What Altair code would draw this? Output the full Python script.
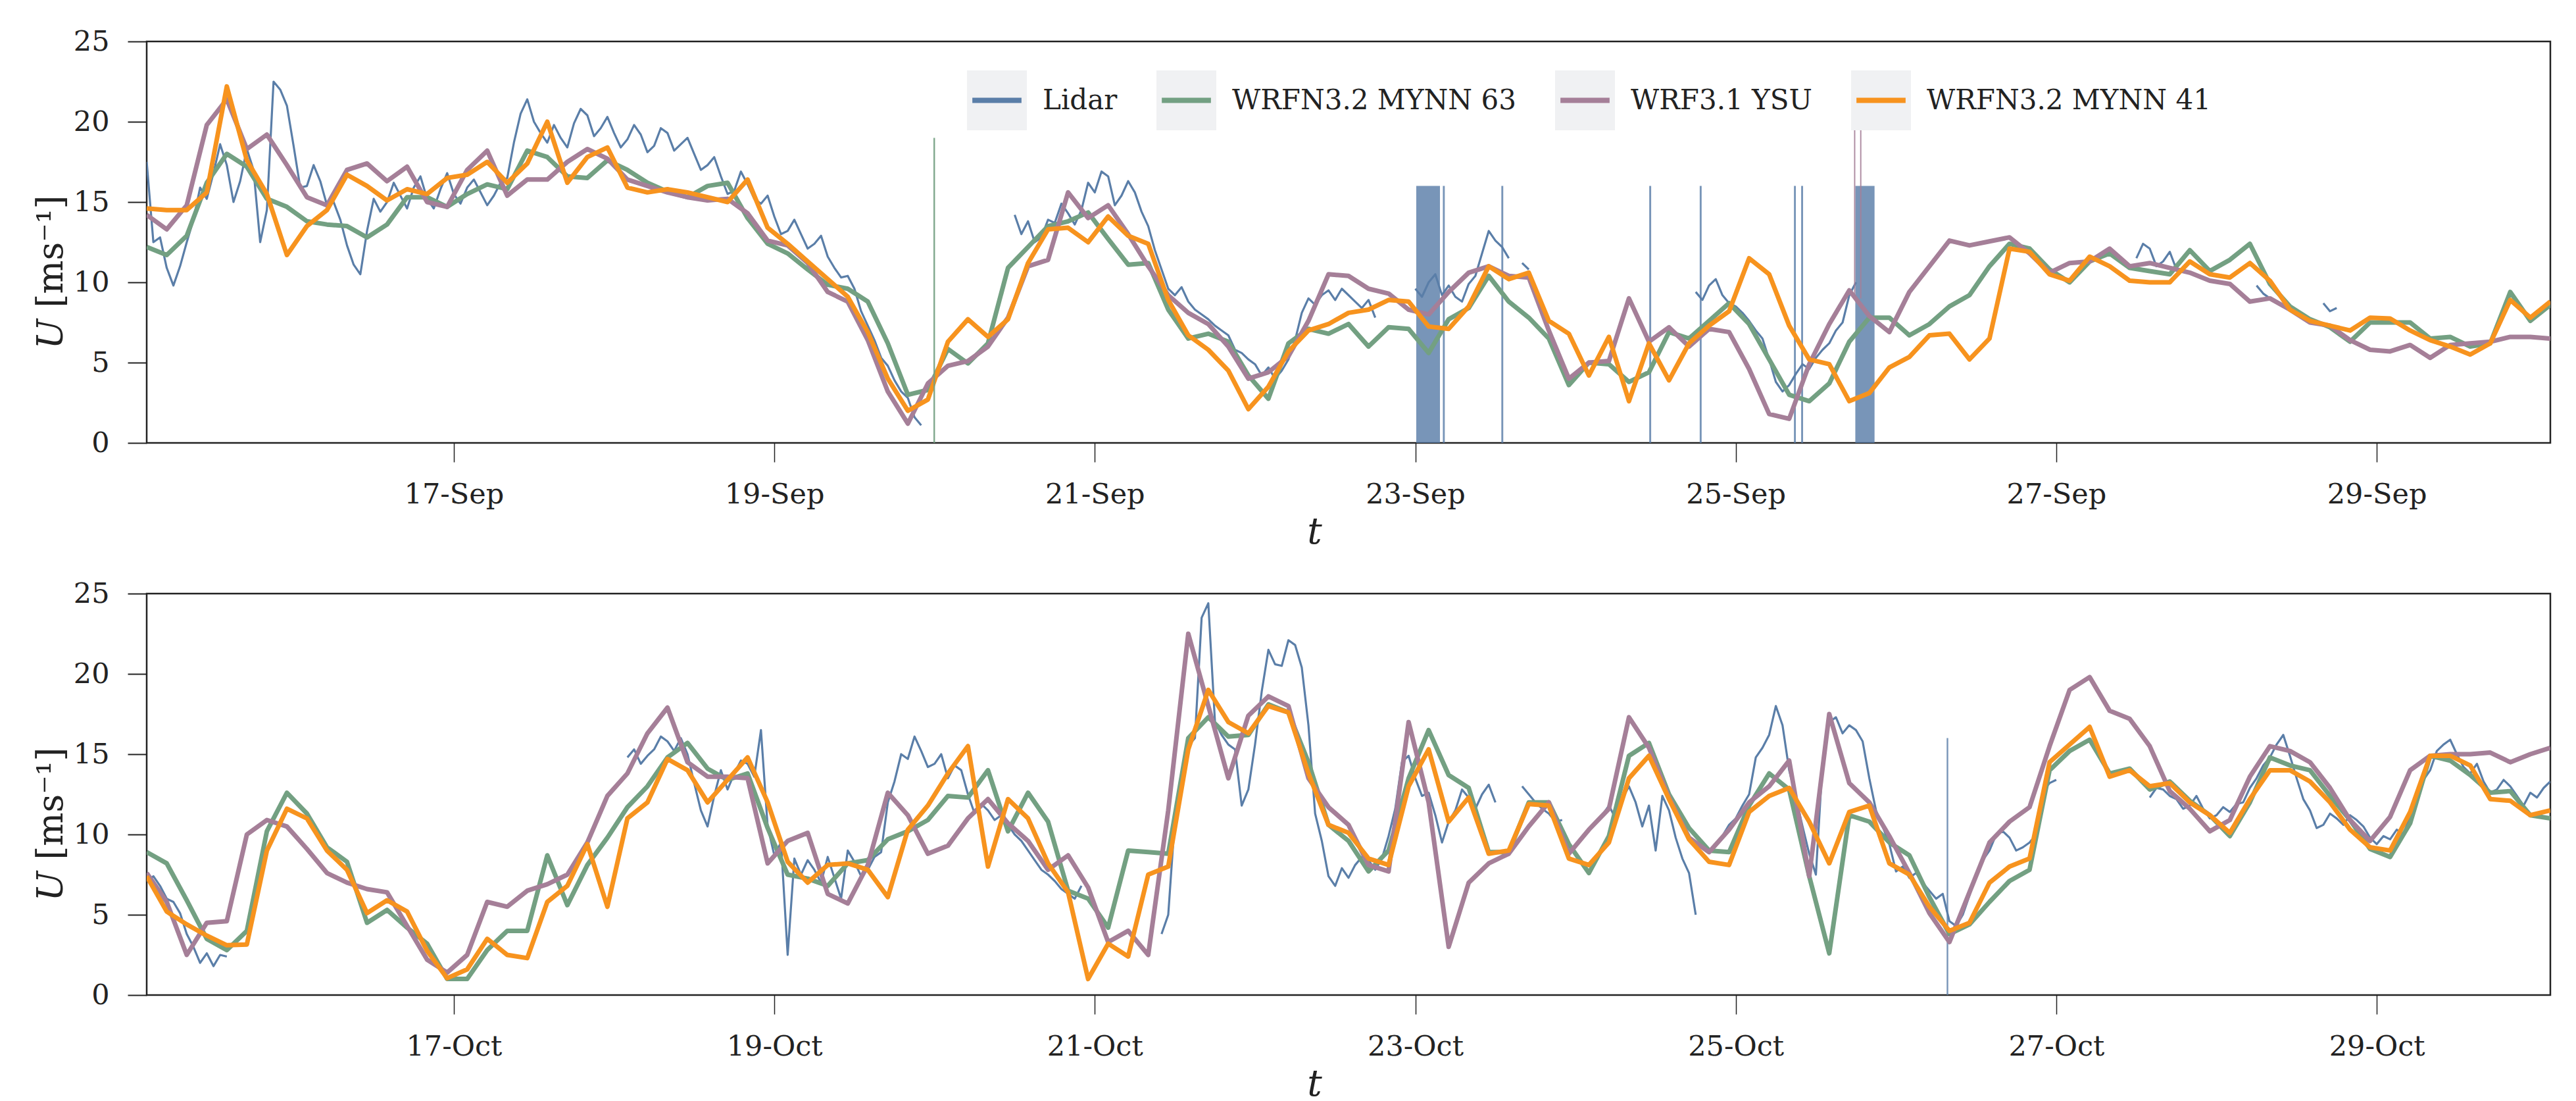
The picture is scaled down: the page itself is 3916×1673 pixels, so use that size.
import numpy as np
import pandas as pd
import altair as alt

N = None
FONT = "DejaVu Serif"
SERIES = ["Lidar", "WRFN3.2 MYNN 63", "WRF3.1 YSU", "WRFN3.2 MYNN 41"]
COLORS = ["#5a7ea8", "#73a082", "#a57f98", "#f7931e"]
BOX_GREY = "#f0f1f3"

START_DAY = 15 + 2 / 24       # first sample: day 15, 02:00
END_DAY = 30 + 2 / 24
MODEL_STEP_H = 3
LIDAR_STEP_H = 1
TICK_DAYS = [17, 19, 21, 23, 25, 27, 29]
Y_TICKS = [0, 5, 10, 15, 20, 25]

# ---------------- September ----------------
SEP_MYNN41 = [
    14.6, 14.5, 14.5, 15.6, 22.2, 17.6, 15.5, 11.7, 13.5, 14.5,
    16.7, 16.0, 15.1, 15.8, 15.5, 16.5, 16.7, 17.5, 16.2, 17.4,
    20.0, 16.2, 17.8, 18.4, 15.9, 15.6, 15.8, 15.6, 15.3, 15.0,
    16.4, 13.4, 12.4, 11.3, 10.2, 9.1, 6.9, 4.0, 2.0, 2.7,
    6.3, 7.7, 6.6, 7.7, 11.2, 13.3, 13.4, 12.5, 14.1, 12.9,
    12.4, 8.9, 6.7, 5.8, 4.5, 2.1, 3.5, 5.7, 7.0, 7.4,
    8.1, 8.3, 8.9, 8.8, 7.25, 7.1, 8.5, 11.0, 10.2, 10.6,
    7.6, 6.8, 4.2, 6.6, 2.6, 6.2, 3.9, 6.2, 7.3, 8.2,
    11.5, 10.5, 7.3, 5.2, 4.9, 2.6, 3.1, 4.7, 5.35, 6.7,
    6.8, 5.2, 6.5, 12.1, 11.9, 10.5, 10.1, 11.6, 11.0, 10.1,
    10.0, 10.0, 11.3, 10.5, 10.3, 11.2, 10.1, 8.3, 7.6, 7.3,
    7.0, 7.8, 7.75, 7.0, 6.4, 6.0, 5.5, 6.2, 8.9, 7.8,
    8.8,
]
SEP_MYNN63 = [
    12.2, 11.7, 12.9, 16.2, 18.0, 17.2, 15.2, 14.7, 13.8, 13.6,
    13.5, 12.8, 13.6, 15.3, 15.3, 14.7, 15.5, 16.1, 15.8, 18.2,
    17.8, 16.6, 16.5, 17.6, 17.0, 16.2, 15.65, 15.3, 16.0, 16.2,
    14.0, 12.4, 11.8, 10.8, 9.85, 9.6, 8.8, 6.2, 3.0, 3.3,
    5.85, 4.95, 6.2, 10.9, 12.2, 13.5, 13.8, 14.35, 12.7, 11.1,
    11.2, 8.3, 6.5, 6.8, 6.3, 4.2, 2.75, 6.2, 7.1, 6.8,
    7.4, 6.0, 7.2, 7.1, 5.6, 7.7, 8.4, 10.4, 8.8, 7.8,
    6.5, 3.6, 5.0, 4.9, 3.8, 4.4, 6.9, 6.5, 7.6, 8.7,
    7.4, 5.2, 3.0, 2.6, 3.7, 6.3, 7.8, 7.8, 6.7, 7.4,
    8.5, 9.2, 11.0, 12.4, 12.1, 10.8, 10.0, 11.3, 11.8, 10.9,
    10.7, 10.5, 12.0, 10.7, 11.4, 12.4, 9.9, 8.5, 7.7, 7.2,
    6.3, 7.5, 7.5, 7.5, 6.5, 6.6, 6.0, 6.2, 9.4, 7.6,
    8.6,
]
SEP_YSU = [
    14.2, 13.3, 14.8, 19.8, 21.4, 18.3, 19.2, 17.3, 15.3, 14.8,
    17.0, 17.4, 16.3, 17.2, 15.0, 14.7, 17.0, 18.2, 15.4, 16.4,
    16.4, 17.5, 18.3, 17.7, 16.4, 16.0, 15.6, 15.3, 15.1, 15.2,
    14.3, 12.6, 12.3, 11.2, 9.4, 8.8, 6.4, 3.2, 1.2, 3.7,
    4.8, 5.1, 6.0, 7.8, 11.0, 11.4, 15.6, 14.0, 14.8, 13.0,
    11.0, 9.2, 8.1, 7.4, 6.0, 4.0, 4.4, 5.4, 7.6, 10.5,
    10.4, 9.6, 9.3, 8.3, 8.0, 9.4, 10.6, 11.0, 10.4, 10.3,
    7.0, 4.0, 5.0, 5.1, 9.0, 6.3, 7.2, 6.0, 7.1, 6.9,
    4.6, 1.8, 1.5, 4.9, 7.4, 9.5, 7.9, 6.9, 9.4, 11.0,
    12.6, 12.3, 12.55, 12.8, 11.8, 10.6, 11.2, 11.3, 12.1, 11.0,
    11.2, 10.9, 10.6, 10.1, 9.9, 8.8, 9.0, 8.3, 7.5, 7.3,
    6.4, 5.8, 5.7, 6.1, 5.3, 6.1, 6.2, 6.3, 6.6, 6.6,
    6.5,
]
# hourly lidar, None = no measurement
SEP_LIDAR = [
    17.5, 12.5, 12.8, 10.9, 9.8, 11.0, 12.5, 13.9, 15.9, 15.2,
    16.8, 18.6, 17.3, 15.0, 16.3, 18.3, 17.0, 12.5, 14.5, 22.5,
    22.0, 21.0, 18.5, 15.9, 16.0, 17.3, 16.3, 14.8, 15.0, 13.9,
    12.3, 11.1, 10.5, 13.2, 15.2, 14.4, 15.0, 16.2, 15.4, 14.6,
    15.9, 16.6, 15.2, 14.6, 15.8, 16.8, 15.5, 14.9, 15.9, 16.4,
    15.6, 14.8, 15.4, 16.2, 16.5, 18.7, 20.5, 21.4, 20.0, 19.3,
    18.7, 19.8, 19.0, 18.4, 19.9, 20.8, 20.4, 19.1, 19.6, 20.3,
    19.3, 18.4, 18.9, 19.8, 19.2, 18.1, 18.5, 19.6, 19.3, 18.2,
    18.6, 19.0, 18.0, 17.0, 17.3, 17.8, 16.6, 15.5, 15.7, 16.9,
    16.1, 15.2, 14.9, 15.4, 14.1, 13.0, 13.2, 13.9, 13.0, 12.1,
    12.4, 12.9, 11.6, 10.9, 10.3, 10.4, 9.6, 8.2, 7.3, 6.4,
    5.3, 4.8, 3.9, 3.2, 2.8, 1.6, 1.1, N, N, N,
    N, N, N, N, N, N, N, N, N, N,
    14.2, 13.0, 13.8, 12.5, 12.8, 13.9, 13.7, 14.9, 14.3, 13.6,
    14.5, 16.2, 15.6, 16.9, 16.6, 14.8, 15.4, 16.3, 15.6, 14.4,
    13.5, 12.0, 10.8, 9.6, 9.2, 9.7, 8.8, 8.3, 8.0, 7.7,
    7.3, 7.0, 6.7, 5.8, 5.6, 5.2, 4.9, 4.2, 4.7, 4.0,
    4.5, 5.2, 6.4, 8.1, 9.0, 8.6, 9.2, 9.5, 8.9, 9.6,
    9.2, 8.8, 8.4, 8.9, 7.8, N, N, N, N, N,
    9.6, 9.1, 10.0, 10.5, 9.2, 9.8, 9.1, 8.8, 9.9, 10.4,
    11.8, 13.2, 12.6, 12.2, 11.5, N, 11.2, 10.8, N, N,
    N, N, N, N, N, N, N, N, N, N,
    N, N, N, N, N, N, N, N, N, N,
    N, N, 9.4, 8.9, 9.8, 10.2, 9.2, 8.7, 8.5, 8.1,
    7.6, 7.0, 6.5, 5.2, 3.8, 3.2, 3.6, 4.3, 4.9, 4.6,
    5.3, 5.8, 6.2, 7.0, 7.5, 9.2, 10.0, N, N, N,
    N, N, N, N, N, N, N, N, N, N,
    N, N, N, N, N, N, N, N, N, N,
    N, N, N, N, N, N, N, N, N, N,
    N, N, N, N, N, N, N, N, 11.5, 12.4,
    12.1, 11.0, 11.3, 11.9, 10.8, N, N, N, N, N,
    N, N, N, N, N, N, 9.8, 9.3, 9.0, N,
    N, N, N, N, N, N, 8.7, 8.2, 8.4, N,
    N, N, N, N, N, N, N, N, N, N,
    N, N, N, N, N, N, N, N, N, N,
    N, N, N, N, N, N, N, N, N, N,
    N,
]
# vertical lidar bursts (day start, day end), reaching SEP_BAND_TOP
SEP_BAND_START = [23.006, 23.172, 23.537, 24.460, 24.775, 25.363, 25.408, 25.746]
SEP_BAND_END = [23.154, 23.184, 23.549, 24.472, 24.787, 25.375, 25.420, 25.866]
SEP_BAND_TOP = 16.0
SEP_GREEN_SPIKE_START = [19.993]
SEP_GREEN_SPIKE_END = [20.003]
SEP_GREEN_SPIKE_LOW = [0.0]
SEP_GREEN_SPIKE_HIGH = [19.0]
SEP_MAUVE_SPIKE_START = [25.738, 25.776]
SEP_MAUVE_SPIKE_END = [25.746, 25.784]
SEP_MAUVE_SPIKE_LOW = [9.0, 9.0]
SEP_MAUVE_SPIKE_HIGH = [22.0, 22.0]

# ---------------- October ----------------
OCT_MYNN41 = [
    7.4, 5.2, 4.4, 3.7, 3.1, 3.15, 9.0, 11.6, 11.0, 9.0,
    7.8, 5.1, 5.9, 5.2, 2.75, 1.05, 1.6, 3.5, 2.5, 2.3,
    5.8, 6.8, 9.4, 5.5, 11.0, 12.0, 14.7, 14.0, 12.0, 13.4,
    14.8, 12.0, 8.3, 7.0, 8.1, 8.2, 7.8, 6.1, 10.3, 11.8,
    13.8, 15.5, 8.0, 12.2, 11.0, 8.2, 6.4, 1.0, 3.2, 2.4,
    7.5, 8.0, 15.3, 19.0, 17.0, 16.3, 18.0, 17.6, 13.8, 10.6,
    10.1, 8.5, 8.1, 13.0, 15.3, 10.8, 12.3, 8.8, 9.0, 11.9,
    11.8, 8.5, 8.1, 9.5, 13.5, 14.9, 12.2, 9.7, 8.3, 8.1,
    11.4, 12.4, 12.9, 10.8, 8.2, 11.4, 11.8, 8.2, 7.5, 5.5,
    4.0, 4.5, 7.0, 8.0, 8.5, 14.5, 15.6, 16.7, 13.6, 14.0,
    13.0, 13.2, 12.0, 11.2, 10.1, 12.2, 14.0, 14.0, 13.3, 12.0,
    10.3, 9.2, 9.0, 11.4, 14.9, 14.9, 14.3, 12.2, 12.1, 11.2,
    11.5,
]
OCT_MYNN63 = [
    8.9, 8.2, 5.9, 3.5, 2.8, 4.0, 10.2, 12.6, 11.3, 9.2,
    8.3, 4.5, 5.3, 4.2, 3.2, 1.0, 1.0, 2.8, 4.0, 4.0,
    8.7, 5.6, 8.1, 9.8, 11.7, 13.0, 14.8, 15.7, 14.1, 13.4,
    13.8, 10.4, 7.5, 7.25, 6.8, 8.2, 8.4, 9.7, 10.2, 10.9,
    12.4, 12.3, 14.0, 10.2, 12.6, 10.8, 6.5, 6.0, 4.2, 9.0,
    8.9, 8.8, 16.0, 17.3, 16.1, 16.2, 18.1, 17.6, 14.5, 10.6,
    9.6, 7.7, 9.0, 13.5, 16.5, 13.7, 12.9, 8.9, 8.9, 12.0,
    12.0, 9.4, 7.6, 9.9, 14.9, 15.7, 12.5, 10.4, 9.0, 8.9,
    11.8, 13.8, 12.8, 7.4, 2.6, 11.2, 10.8, 9.5, 8.7, 6.1,
    3.8, 4.4, 5.8, 7.1, 7.8, 14.0, 15.2, 15.9, 13.8, 14.1,
    12.8, 13.3, 12.1, 11.2, 9.9, 12.0, 14.8, 14.3, 14.0, 12.4,
    10.9, 9.1, 8.6, 10.7, 14.9, 14.6, 13.7, 12.6, 12.7, 11.2,
    11.0,
]
OCT_YSU = [
    7.6, 5.8, 2.5, 4.5, 4.6, 10.0, 10.9, 10.5, 9.1, 7.6,
    7.0, 6.6, 6.4, 4.3, 2.2, 1.4, 2.5, 5.8, 5.5, 6.5,
    6.9, 7.5, 9.5, 12.4, 13.8, 16.3, 17.9, 14.5, 13.6, 13.6,
    13.5, 8.2, 9.6, 10.1, 6.3, 5.7, 8.1, 12.6, 11.2, 8.8,
    9.3, 11.0, 12.2, 10.7, 9.6, 7.8, 8.7, 6.7, 3.3, 4.0,
    2.5, 11.5, 22.5, 18.0, 13.5, 17.4, 18.6, 18.0, 13.5, 11.7,
    10.6, 8.1, 7.7, 17.0, 12.0, 3.0, 7.0, 8.2, 8.8, 10.5,
    12.0, 8.8, 10.3, 11.6, 17.3, 15.4, 12.3, 9.8, 8.9, 10.3,
    12.0, 13.0, 14.6, 7.4, 17.5, 13.2, 12.0, 9.9, 7.6, 5.1,
    3.3, 6.4, 9.5, 10.8, 11.7, 15.5, 19.0, 19.8, 17.7, 17.2,
    15.5, 12.7, 11.6, 10.2, 10.9, 13.6, 15.5, 15.2, 14.5, 12.9,
    10.9, 9.6, 11.1, 14.0, 14.9, 15.0, 15.0, 15.1, 14.5, 15.0,
    15.4,
]
OCT_LIDAR = [
    7.1, 7.4, 6.8, 6.0, 5.8, 5.1, 3.8, 3.0, 2.0, 2.6,
    1.8, 2.5, 2.4, N, N, N, N, N, N, N,
    N, N, N, N, N, N, N, N, N, N,
    N, N, N, N, N, N, N, N, N, N,
    N, N, N, N, N, N, N, N, N, N,
    N, N, N, N, N, N, N, N, N, N,
    N, N, N, N, N, N, N, N, N, N,
    N, N, 14.8, 15.3, 14.4, 14.9, 15.3, 16.1, 15.8, 15.2,
    16.0, 15.0, 13.2, 11.5, 10.5, 12.4, 14.0, 12.8, 13.8, 14.6,
    14.4, 13.6, 16.5, 10.5, 8.7, 9.5, 2.5, 8.5, 7.5, 8.4,
    7.8, 7.0, 8.6, 7.3, 6.0, 9.0, 8.3, 7.4, 7.8, 8.6,
    8.9, 12.0, 13.3, 15.0, 14.7, 16.1, 15.2, 14.2, 14.4, 15.0,
    13.5, 14.3, 14.0, 12.5, 11.3, 11.9, 11.5, 10.9, 11.2, 10.6,
    10.0, 9.6, 9.0, 8.4, 7.8, 7.5, 7.1, 6.6, 6.3, 6.0,
    6.8, N, N, N, N, N, N, N, N, N,
    N, N, 3.8, 5.0, 11.0, 13.5, 15.5, 16.0, 23.5, 24.4,
    17.0, 16.2, 15.6, 15.3, 11.8, 12.8, 15.6, 18.9, 21.5, 20.6,
    20.5, 22.1, 21.8, 20.4, 16.8, 11.3, 9.6, 7.4, 6.8, 7.9,
    7.3, 8.1, 8.6, 8.4, 7.8, 8.5, 9.9, 11.6, 14.5, 14.9,
    13.5, 12.4, 12.6, 11.2, 9.5, 10.8, 11.5, 12.8, 12.3, 11.6,
    12.5, 13.1, 12.0, N, N, N, 13.0, 12.5, 12.0, 11.6,
    11.3, 10.8, 10.9, N, N, N, N, N, 11.2, 11.8,
    11.0, 12.2, 13.0, 12.0, 10.5, 11.8, 9.0, 12.4, 11.5, 9.8,
    8.5, 7.6, 5.0, N, N, N, 9.9, 10.6, 11.0, 11.8,
    12.5, 14.8, 15.4, 16.2, 18.0, 16.8, 14.0, 12.3, 10.5, 8.8,
    7.5, 14.5, 17.0, 17.3, 16.3, 16.8, 16.5, 15.8, 13.5, 11.5,
    10.5, 9.4, 7.7, 8.0, 7.3, 7.6, 7.0, 6.5, 6.0, 6.3,
    4.6, 4.3, 5.0, 6.2, 7.5, 8.4, 9.0, 10.0, 10.2, 9.8,
    9.0, 9.2, 9.5, 10.0, 12.7, 13.2, 13.4, N, N, N,
    N, N, N, N, N, N, N, N, N, N,
    12.3, 12.9, 12.8, 12.4, 12.2, 11.6, 11.8, 12.4, 11.6, 11.0,
    11.2, 11.7, 11.4, 11.9, 12.0, 12.9, 13.5, 14.3, 14.8, 15.6,
    16.2, 14.9, 13.5, 12.2, 11.5, 10.4, 10.6, 11.3, 11.0, 10.6,
    11.2, 10.9, 10.5, 9.8, 9.4, 9.9, 9.7, 10.3, 10.0, 11.2,
    12.5, 13.4, 14.0, 15.2, 15.6, 15.9, 15.0, 14.2, 13.8, 14.4,
    13.3, 12.6, 12.8, 13.4, 13.0, 12.4, 11.8, 12.6, 12.3, 12.9,
    13.3,
]
OCT_BAND_START = [26.316]
OCT_BAND_END = [26.326]
OCT_BAND_TOP = 16.0


def series_frame(values, step_hours, name):
    t = START_DAY + np.arange(len(values)) * step_hours / 24.0
    u = [np.nan if v is None else float(v) for v in values]
    return pd.DataFrame({"day": t, "U": u, "series": name})


def rect_frame(starts, ends, lows, highs):
    return pd.DataFrame({"day": starts, "day2": ends, "U": lows, "U2": highs})


def legend_props(zindex):
    return dict(
        title=None, orient="none", legendX=1247, legendY=44, direction="horizontal",
        columns=4, columnPadding=47, padding=0, zindex=zindex,
        symbolSize=6889, symbolStrokeWidth=8, symbolOpacity=1,
        labelFont=FONT, labelFontSize=42, labelOffset=24, labelLimit=1000,
    )


def make_panel(month, lidar, m63, ysu, m41, bands, extra_spikes, with_legend):
    x = alt.X(
        "day:Q",
        scale=alt.Scale(domain=[START_DAY, END_DAY], nice=False, zero=False),
        axis=alt.Axis(
            values=TICK_DAYS,
            labelExpr=f"datum.value + '-{month}'",
            title="t",
            titleFontStyle="italic",
            titleFontSize=56,
            titleX=1775,
            titlePadding=8,
            tickWidth=1.5,
        ),
    )
    y = alt.Y(
        "U:Q",
        scale=alt.Scale(domain=[0, 25], nice=False),
        axis=alt.Axis(values=Y_TICKS, title="𝑈 [ms⁻¹]", titleY=350, titlePadding=6),
    )
    color_scale = alt.Scale(domain=SERIES, range=COLORS)
    line_legend = None
    if with_legend:
        # short horizontal stroke; the two bare move-to points give it the same
        # bounding box as the grey square behind it, so both legends lay out alike
        line_legend = alt.Legend(symbolType="M-1,-1M-0.9,0H0.9M1,1", labelColor="#222222",
                                 **legend_props(2))
    color = alt.Color("series:N", scale=color_scale, legend=line_legend)

    layers = []
    if with_legend:
        # grey squares behind the legend's line symbols
        box_legend = alt.Legend(symbolType="square", symbolStrokeColor=BOX_GREY,
                                symbolFillColor=BOX_GREY, labelOpacity=0, **legend_props(1))
        dummy = pd.DataFrame({"box": SERIES, "day": [20.0] * 4, "U": [10.0] * 4})
        layers.append(
            alt.Chart(dummy).mark_point(shape="square", filled=True, opacity=0, size=1).encode(
                x=x, y=y,
                fill=alt.Fill("box:N", sort=SERIES, scale=alt.Scale(range=[BOX_GREY] * 4),
                              legend=box_legend),
            )
        )
    layers.append(
        alt.Chart(bands).mark_rect(color=COLORS[0], opacity=0.82, clip=True).encode(
            x=x, x2=alt.X2("day2:Q"), y=y, y2=alt.Y2("U2:Q"))
    )
    layers.append(
        alt.Chart(lidar).mark_line(strokeWidth=3.2, strokeJoin="round", clip=True).encode(
            x=x, y=y, color=color)
    )
    for df in (m63, ysu, m41):
        layers.append(
            alt.Chart(df).mark_line(strokeWidth=7, strokeJoin="round", clip=True).encode(
                x=x, y=y, color=color)
        )
    for df, col in extra_spikes:
        layers.append(
            alt.Chart(df).mark_rect(color=col, opacity=0.9, clip=True).encode(
                x=x, x2=alt.X2("day2:Q"), y=y, y2=alt.Y2("U2:Q"))
        )
    return alt.layer(*layers).properties(width=3654, height=610)


sep_bands = rect_frame(SEP_BAND_START, SEP_BAND_END, [0.0] * len(SEP_BAND_START),
                       [SEP_BAND_TOP] * len(SEP_BAND_START))
sep_spikes = [
    (rect_frame(SEP_GREEN_SPIKE_START, SEP_GREEN_SPIKE_END, SEP_GREEN_SPIKE_LOW, SEP_GREEN_SPIKE_HIGH), COLORS[1]),
    (rect_frame(SEP_MAUVE_SPIKE_START, SEP_MAUVE_SPIKE_END, SEP_MAUVE_SPIKE_LOW, SEP_MAUVE_SPIKE_HIGH), COLORS[2]),
]
oct_bands = rect_frame(OCT_BAND_START, OCT_BAND_END, [0.0] * len(OCT_BAND_START),
                       [OCT_BAND_TOP] * len(OCT_BAND_START))

top = make_panel(
    "Sep",
    series_frame(SEP_LIDAR, LIDAR_STEP_H, SERIES[0]),
    series_frame(SEP_MYNN63, MODEL_STEP_H, SERIES[1]),
    series_frame(SEP_YSU, MODEL_STEP_H, SERIES[2]),
    series_frame(SEP_MYNN41, MODEL_STEP_H, SERIES[3]),
    sep_bands, sep_spikes, True,
)
bottom = make_panel(
    "Oct",
    series_frame(OCT_LIDAR, LIDAR_STEP_H, SERIES[0]),
    series_frame(OCT_MYNN63, MODEL_STEP_H, SERIES[1]),
    series_frame(OCT_YSU, MODEL_STEP_H, SERIES[2]),
    series_frame(OCT_MYNN41, MODEL_STEP_H, SERIES[3]),
    oct_bands, [], False,
)

chart = (
    alt.vconcat(top, bottom, spacing=41)
    .resolve_scale(color="independent", fill="independent")
    .resolve_legend(color="independent", fill="independent")
    .properties(padding={"left": 50, "top": 40, "right": 20, "bottom": 0}, background="white")
    .configure_view(stroke="#222222", strokeWidth=2.5)
    .configure_axis(
        labelFont=FONT, labelFontSize=43, labelColor="#222222",
        titleFont=FONT, titleFontSize=54, titleColor="#222222", titleFontWeight="normal",
        tickColor="#222222", tickSize=29, tickWidth=2, domain=False, grid=False,
        labelPadding=28, labelFlush=False, labelOverlap=False,
    )
)

chart.save("out.html", embed_options={"renderer": "svg", "actions": False})
